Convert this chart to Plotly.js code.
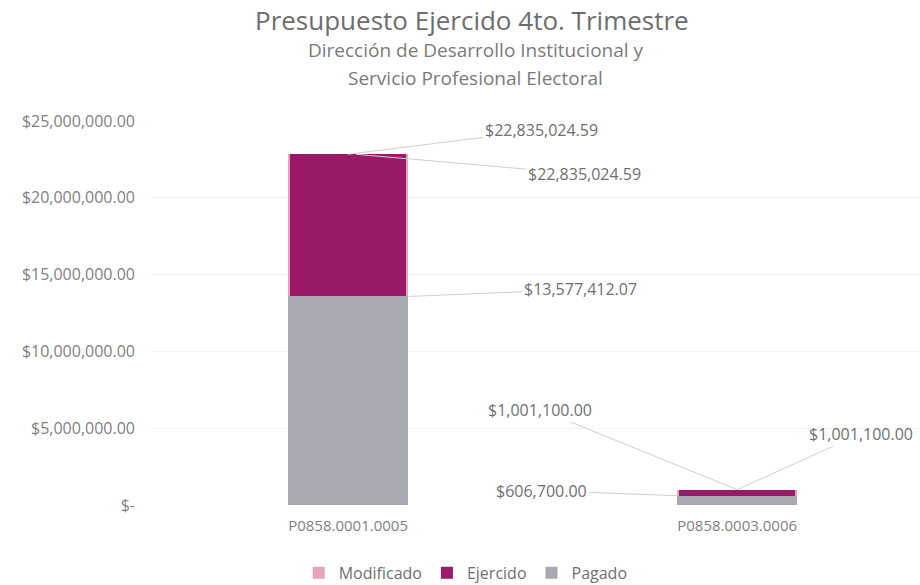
<!DOCTYPE html>
<html><head><meta charset="utf-8">
<script src="https://cdn.plot.ly/plotly-3.0.1.min.js"></script>
<style>body{margin:0;background:#fff}</style>
</head><body><div id="chart" style="width:920px;height:585px"></div>
<script>
const categories = ["P0858.0001.0005", "P0858.0003.0006"];
const modificado = [22835024.59, 1001100.00];
const ejercido = [22835024.59, 1001100.00];
const pagado = [13577412.07, 606700.00];
const tickVals = [0, 5000000, 10000000, 15000000, 20000000, 25000000];
const tickText = ["$-", "$5,000,000.00", "$10,000,000.00", "$15,000,000.00", "$20,000,000.00", "$25,000,000.00"];
const titleLines = ["Presupuesto Ejercido 4to. Trimestre", "Dirección de Desarrollo Institucional y", "Servicio Profesional Electoral"];

const fmt = v => "$" + v.toLocaleString("en-US", {minimumFractionDigits: 2, maximumFractionDigits: 2});
const font = "Open Sans, Noto Sans, sans-serif";
const grey = "#7f7f7f";

const traces = [
  {type: "bar", name: "Modificado", x: categories, y: modificado, width: 0.31, marker: {color: "#e7a3bd"}},
  {type: "bar", name: "Ejercido", x: categories, y: ejercido, width: 0.30, marker: {color: "#9a1a68"}},
  {type: "bar", name: "Pagado", x: categories, y: pagado, width: 0.31, marker: {color: "#a8a9b1"}}
];

const ann = [];
function lab(vals, i, ax, ay, xoff) {
  ann.push({x: i + (xoff || 0), y: vals[i], xref: "x", yref: "y", text: fmt(vals[i]),
    showarrow: true, arrowhead: 0, arrowwidth: 1, arrowcolor: "#d0d0d0",
    ax: ax, ay: ay, font: {family: font, size: 16, color: "#6f6f6f"}});
}
lab(modificado, 0, 193, -24, 0);
lab(ejercido, 0, 229, 20, 0.02);
lab(pagado, 0, 172, -7, 0.155);
lab(modificado, 1, -197, -80, 0);
lab(ejercido, 1, 124, -56, 0);
lab(pagado, 1, -135, -5, -0.155);

ann.push({xref: "paper", yref: "paper", x: 0.418, y: 1, yanchor: "middle", yshift: 101, text: titleLines[0], showarrow: false,
  font: {family: font, size: 26, color: "#6d6d6d"}});
ann.push({xref: "paper", yref: "paper", x: 0.423, y: 1, yanchor: "middle", yshift: 71, text: titleLines[1], showarrow: false,
  font: {family: font, size: 19, color: "#7a7a7a"}});
ann.push({xref: "paper", yref: "paper", x: 0.423, y: 1, yanchor: "middle", yshift: 43, text: titleLines[2], showarrow: false,
  font: {family: font, size: 19, color: "#7a7a7a"}});

const layout = {
  width: 920, height: 585,
  paper_bgcolor: "#ffffff", plot_bgcolor: "#ffffff",
  margin: {l: 150, r: 0, t: 121, b: 80, autoexpand: false},
  barmode: "overlay",
  xaxis: {type: "category", range: [-0.509, 1.47], showgrid: false, zeroline: false, showline: false, automargin: false,
    ticks: "", ticklabelstandoff: 10, tickfont: {family: font, size: 15, color: grey}},
  yaxis: {range: [0, 25000000], tickvals: tickVals, ticktext: tickText, showgrid: true, automargin: false,
    gridcolor: "#f4f4f4", zeroline: false, showline: false, ticks: "", ticklabelstandoff: 14,
    tickfont: {family: font, size: 16, color: grey}},
  showlegend: true,
  legend: {orientation: "h", x: 0.41, xanchor: "center", y: -0.177, yanchor: "middle",
    font: {family: font, size: 16, color: "#6f6f6f"}, itemwidth: 30, traceorder: "normal"},
  annotations: ann,
  bargap: 0
};
Plotly.newPlot("chart", traces, layout, {displayModeBar: false});
</script></body></html>
